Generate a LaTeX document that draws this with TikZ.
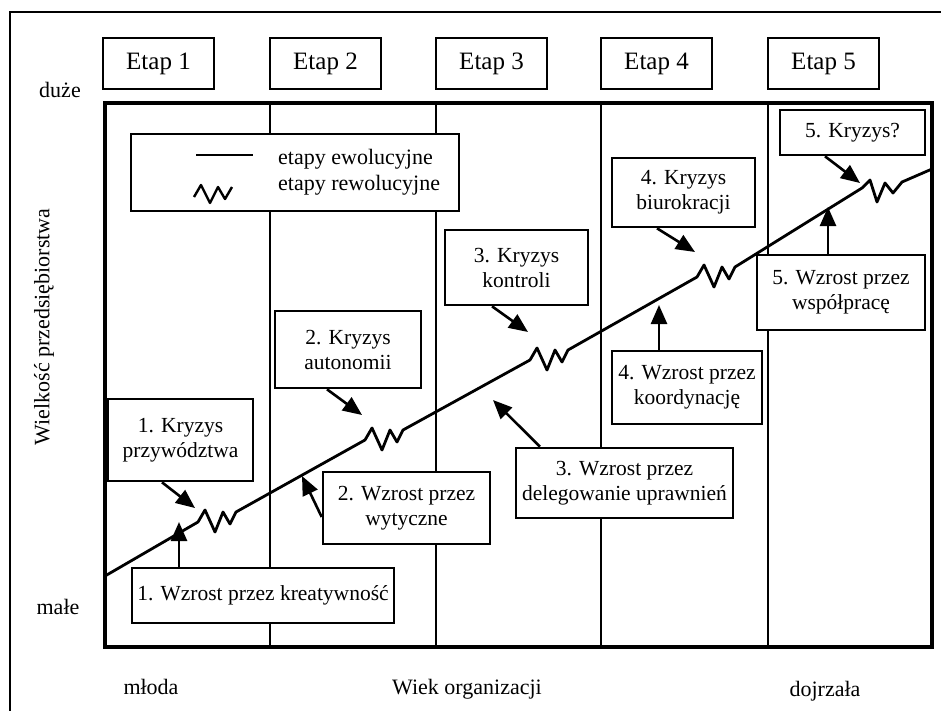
\documentclass[tikz,border=0pt]{standalone}
\usepackage{fontspec}
\setmainfont{Liberation Serif}
\usetikzlibrary{arrows.meta}
\begin{document}
\begin{tikzpicture}[x=1pt,y=-1pt,
  box/.style={draw, line width=2.6pt, fill=white, align=center, inner sep=0pt, font=\fontsize{21.5}{25}\selectfont},
  etapbox/.style={draw, line width=2.6pt, fill=white, minimum width=111pt, minimum height=51pt, inner sep=0pt, font=\fontsize{25}{30}\selectfont},
  lbl/.style={font=\fontsize{22}{26}\selectfont, inner sep=0pt},
  evo/.style={line width=2.8pt, line join=round},
  arr/.style={line width=2.6pt, -{Triangle[length=19pt,width=16pt]}},
  divider/.style={line width=2pt}]

\useasboundingbox (0,0) rectangle (941,710);
\clip (0,0) rectangle (941,710);
\fill[white] (0,0) rectangle (941,710);
\draw[line width=2.2pt] (10,740) -- (10,12) -- (960,12);

% stage headers
\node[etapbox] (e1) at (158.5,63.5) {Etap 1};
\node[etapbox] (e2) at (325.5,63.5) {Etap 2};
\node[etapbox] (e3) at (491.5,63.5) {Etap 3};
\node[etapbox] (e4) at (656.5,63.5) {Etap 4};
\node[etapbox] (e5) at (823.5,63.5) {Etap 5};

% axis labels
\node[lbl, anchor=base] (duze) at (60,97) {duże};
\node[lbl, anchor=base] (male) at (58,614) {małe};
\node[lbl, rotate=90] (ylab) at (44,327) {Wielkość przedsiębiorstwa};
\node[lbl, anchor=base] (mloda) at (151,694) {młoda};
\node[lbl, anchor=base] (wiek) at (467,694) {Wiek organizacji};
\node[lbl, anchor=base] (dojr) at (825,696) {dojrzała};

% main frame and dividers
\draw[line width=3.2pt] (105,103) rectangle (932,647);
\foreach \xx in {270,436,601,768} \draw[divider] (\xx,103) -- (\xx,647);

% legend
\node[box, minimum width=328pt, minimum height=77pt] (leg) at (295,172.5) {};
\draw[evo] (196,155) -- (253,155);
\draw[line width=2.4pt, line join=round] (194,197) -- ++(7,-12) -- ++(9,18) -- ++(8,-16) -- ++(7,12) -- ++(7,-12);
\node[lbl, anchor=base west] (lev) at (278,164) {etapy ewolucyjne};
\node[lbl, anchor=base west] (lrev) at (278,190) {etapy rewolucyjne};

% evolution line with revolutionary zigzags
\coordinate (p0) at (105,576);
\coordinate (z1) at (198,522);
\coordinate (z2) at (365,440);
\coordinate (z3) at (530,360);
\coordinate (z4) at (697,277);
\coordinate (z5) at (862,188);
\coordinate (pend) at (932,169);
\draw[evo]
  (p0) -- (z1) -- ++(7,-12) -- ++(10,22) -- ++(8,-20) -- ++(7,12) -- ++(6,-12)
  -- (z2) -- ++(7,-12) -- ++(10,22) -- ++(8,-20) -- ++(7,12) -- ++(6,-12)
  -- (z3) -- ++(7,-12) -- ++(10,22) -- ++(8,-20) -- ++(7,12) -- ++(6,-12)
  -- (z4) -- ++(7,-12) -- ++(10,22) -- ++(8,-20) -- ++(7,12) -- ++(6,-12)
  -- (z5) -- ++(8,-8) -- ++(7,22) -- ++(8,-19) -- ++(8,10) -- ++(9,-11)
  -- (pend);

% text boxes
\node[box, minimum width=145pt, minimum height=82pt] (k1) at (180.5,440) {1. Kryzys\\przywództwa};
\node[box, minimum width=262pt, minimum height=55pt] (w1) at (263,595.5) {1. Wzrost przez kreatywność};
\node[box, minimum width=146pt, minimum height=77pt] (k2) at (348,349.5) {2. Kryzys\\autonomii};
\node[box, minimum width=167pt, minimum height=72pt] (w2) at (406.5,508) {2. Wzrost przez\\wytyczne};
\node[box, minimum width=143pt, minimum height=75pt] (k3) at (516.5,267.5) {3. Kryzys\\kontroli};
\node[box, minimum width=217pt, minimum height=70pt] (w3) at (624.5,483) {3. Wzrost przez\\delegowanie uprawnień};
\node[box, minimum width=143pt, minimum height=69pt] (k4) at (683.5,192.5) {4. Kryzys\\biurokracji};
\node[box, minimum width=150pt, minimum height=73pt] (w4) at (687,387.5) {4. Wzrost przez\\koordynację};
\node[box, minimum width=145pt, minimum height=45pt] (k5) at (852.5,132.5) {5. Kryzys?};
\node[box, minimum width=168pt, minimum height=75pt] (w5) at (841,292.5) {5. Wzrost przez\\współpracę};

% arrow tips
\coordinate (t1) at (195,508);
\coordinate (t2) at (179,522);
\coordinate (t3) at (362,415);
\coordinate (t4) at (302,476);
\coordinate (t5) at (528,332);
\coordinate (t6) at (493,400);
\coordinate (t7) at (695,252);
\coordinate (t8) at (659,305);
\coordinate (t9) at (860,183);
\coordinate (t10) at (828,207);

\draw[arr] ([xshift=-18.5pt]k1.south) -- (t1);
\draw[arr] ([xshift=-84pt]w1.north) -- (t2);
\draw[arr] ([xshift=-21pt]k2.south) -- (t3);
\draw[arr] ([yshift=-9pt]w2.west) -- (t4);
\draw[arr] ([xshift=-24.5pt]k3.south) -- (t5);
\draw[arr] ([xshift=-84.5pt]w3.north) -- (t6);
\draw[arr] ([xshift=-26.5pt]k4.south) -- (t7);
\draw[arr] ([xshift=-28pt]w4.north) -- (t8);
\draw[arr] ([xshift=-27.5pt]k5.south) -- (t9);
\draw[arr] ([xshift=-13pt]w5.north) -- (t10);
\end{tikzpicture}
\end{document}
